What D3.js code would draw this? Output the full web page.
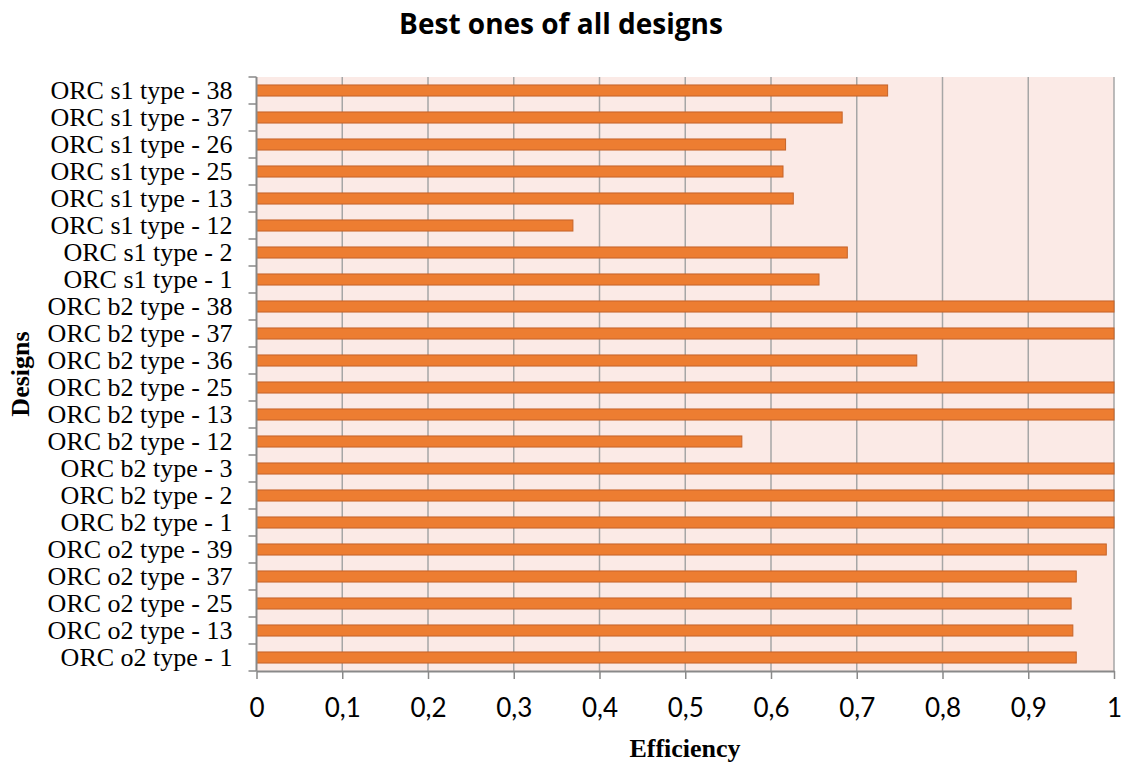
<!DOCTYPE html>
<html><head><meta charset="utf-8">
<script src="https://cdn.jsdelivr.net/npm/d3@7"></script>
<style>body{margin:0;background:#fff;} svg{display:block;}</style>
</head><body>
<svg id="chart" width="1123" height="762"></svg>
<script>
const categories = [
  "ORC s1 type - 38","ORC s1 type - 37","ORC s1 type - 26","ORC s1 type - 25",
  "ORC s1 type - 13","ORC s1 type - 12","ORC s1 type - 2","ORC s1 type - 1",
  "ORC b2 type - 38","ORC b2 type - 37","ORC b2 type - 36","ORC b2 type - 25",
  "ORC b2 type - 13","ORC b2 type - 12","ORC b2 type - 3","ORC b2 type - 2",
  "ORC b2 type - 1","ORC o2 type - 39","ORC o2 type - 37","ORC o2 type - 25",
  "ORC o2 type - 13","ORC o2 type - 1"
];
const efficiency = [
  0.736,0.683,0.617,0.614,
  0.626,0.369,0.689,0.656,
  1,1,0.770,1,
  1,0.566,1,1,
  1,0.991,0.956,0.950,
  0.952,0.956
];
const xTicks = [0,0.1,0.2,0.3,0.4,0.5,0.6,0.7,0.8,0.9,1];
const xTickLabels = ["0","0,1","0,2","0,3","0,4","0,5","0,6","0,7","0,8","0,9","1"];

const svg = d3.select("#chart");
const L = 256.5, R = 1114, T = 77, B = 671;

const x = d3.scaleLinear().domain([0,1]).range([L,R]);
const y = d3.scaleBand().domain(categories).range([T,B]).paddingInner(0.59).paddingOuter(0.295);

svg.append("rect").attr("x",L).attr("y",T).attr("width",R-L).attr("height",B-T).attr("fill","#FBEAE6");

// gridlines
svg.append("g").selectAll("line").data(xTicks.slice(1)).join("line")
  .attr("x1",d=>x(d)).attr("x2",d=>x(d)).attr("y1",T).attr("y2",B)
  .attr("stroke","#A6A6A6").attr("stroke-width",1.5);

// bars
svg.append("g").selectAll("rect").data(categories).join("rect")
  .attr("x",x(0)).attr("y",d=>y(d))
  .attr("width",(d,i)=>x(Math.min(efficiency[i],1))-x(0))
  .attr("height",y.bandwidth())
  .attr("fill","#ED7D31").attr("stroke","#C5642A").attr("stroke-width",1);

// x axis
const xAxis = d3.axisBottom(x).tickValues(xTicks).tickFormat((d,i)=>xTickLabels[i]).tickSize(8).tickSizeOuter(0).tickPadding(0);
const gx = svg.append("g").attr("transform",`translate(0,${B})`).call(xAxis);
gx.select(".domain").attr("stroke","#898989").attr("stroke-width",2);
gx.selectAll(".tick line").attr("stroke","#898989").attr("stroke-width",1.5);
gx.selectAll(".tick text").attr("font-family","Lato, 'Open Sans', sans-serif").attr("font-size",26)
  .attr("fill","#000").attr("y",46).attr("dy",0);

// y axis
const gy = svg.append("g").attr("transform",`translate(${L},0)`);
gy.append("line").attr("x1",0).attr("x2",0).attr("y1",T).attr("y2",B).attr("stroke","#898989").attr("stroke-width",2);
const bounds = d3.range(categories.length+1).map(i=>T+i*(B-T)/categories.length);
gy.selectAll("line.tk").data(bounds).join("line").attr("class","tk")
  .attr("x1",-8).attr("x2",0).attr("y1",d=>d).attr("y2",d=>d)
  .attr("stroke","#898989").attr("stroke-width",1.5);
gy.selectAll("text").data(categories).join("text")
  .attr("x",-24).attr("y",d=>y(d)+y.bandwidth()/2+8)
  .attr("text-anchor","end").attr("font-family","'Liberation Serif', 'Times New Roman', serif")
  .attr("font-size",26).attr("fill","#000").text(d=>d);

// title
svg.append("text").attr("x",561).attr("y",34).attr("text-anchor","middle")
  .attr("font-family","'Open Sans', Lato, sans-serif").attr("font-weight","bold").attr("font-size",28)
  .text("Best ones of all designs");

svg.append("text").attr("x",685).attr("y",757).attr("text-anchor","middle")
  .attr("font-family","'Liberation Serif', serif").attr("font-weight","bold").attr("font-size",26)
  .text("Efficiency");

svg.append("text").attr("transform","translate(29,374) rotate(-90)").attr("text-anchor","middle")
  .attr("font-family","'Liberation Serif', serif").attr("font-weight","bold").attr("font-size",26)
  .text("Designs");
</script>
</body></html>
